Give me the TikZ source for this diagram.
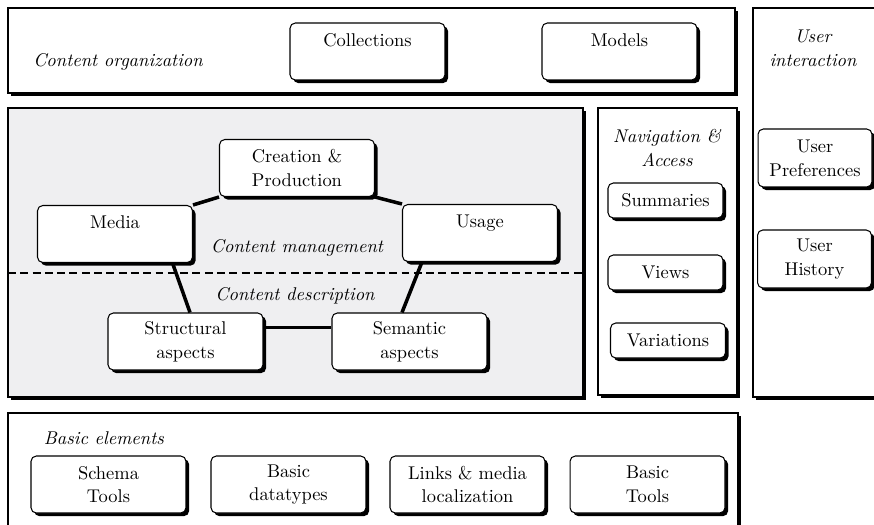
\documentclass[tikz,border=0pt]{standalone}
\usepackage{tikz}
\usetikzlibrary{calc}
\usetikzlibrary{shadows}
\definecolor{descgray}{RGB}{239,239,241}

\begin{document}
\begin{tikzpicture}[x=0.02cm,y=-0.02cm,
  boxshadow/.style={drop shadow={shadow xshift=1.8pt,shadow yshift=-1.8pt,opacity=1,fill=black}},
  panel/.style={draw,line width=0.6pt,fill=white,boxshadow},
  itembox/.style={draw,line width=0.6pt,fill=white,rounded corners=3pt,boxshadow,align=center,
    inner sep=0pt,font=\fontsize{10.5}{13.5}\selectfont},
  bigbox/.style={itembox,minimum width=3.1cm,minimum height=1.14cm},
  navbox/.style={itembox,minimum width=2.3cm,minimum height=0.7cm},
  userbox/.style={itembox,minimum width=2.28cm,minimum height=1.16cm},
  areatext/.style={align=center,inner sep=0pt,font=\fontsize{10.5}{13.5}\selectfont\itshape},
  link/.style={line width=2pt}]
\useasboundingbox (0,0) rectangle (874,524);
\clip (0,0) rectangle (874,524);

% panels
\draw [panel] (8,8) rectangle (735,93);
\draw [panel] (753,8) rectangle (900,397);
\draw [panel,fill=descgray] (8,108) rectangle (583,397);
\draw [panel] (598,108) rectangle (737,395);
\draw [panel] (8,413) rectangle (738,560);

\draw [dash pattern=on 4.5pt off 2.5pt,line width=0.6pt] (8,273)--(583,273);

% content organization
\node [areatext] (orgtext) at (118,62) {Content organization};
\node [bigbox] (collections) at (367.5,51.5) {Collections\\\phantom{X}};
\node [bigbox] (models) at (619.5,51.5) {Models\\\phantom{X}};

% content management / description
\node [areatext] (mgmttext) at (297,248) {Content management};
\node [areatext] (desctext) at (295,296) {Content description};
\node [bigbox] (creation) at (297,168) {Creation \&\\Production};
\node [bigbox] (media) at (115,234) {Media\\\phantom{X}};
\node [bigbox] (usage) at (480,233) {Usage\\\phantom{X}};
\node [bigbox] (structural) at (185.5,341.5) {Structural\\aspects};
\node [bigbox] (semantic) at (409.5,341.5) {Semantic\\aspects};

\draw [link] (media.north east)--(creation.south west);
\draw [link] (creation.south east)--(usage.north west);
\draw [link] ($(media.south east)+(-20.5,0)$)--($(structural.north)+(4.5,0)$);
\draw [link] ($(usage.south west)+(20,0)$)--($(semantic.north)+(-7.5,0)$);
\draw [line width=1.2pt] ($(structural.east)+(0,-14)$)--($(semantic.west)+(0,-14)$);

% navigation
\node [areatext] (navtext) at (667,148) {Navigation \&\\Access};
\node [navbox] (summaries) at (665.5,200.5) {Summaries};
\node [navbox] (views) at (665.5,272.5) {Views};
\node [navbox] (variations) at (668,340.5) {Variations};

% user interaction
\node [areatext] (usertext) at (813,48) {User\\interaction};
\node [userbox] (prefs) at (815,158) {User\\Preferences};
\node [userbox] (history) at (814.5,259) {User\\History};

% basic elements
\node [areatext] (basictext) at (104,438) {Basic elements};
\node [bigbox] (schema) at (108.5,484.5) {Schema\\Tools};
\node [bigbox] (datatypes) at (288.5,484.5) {Basic\\datatypes};
\node [bigbox] (links) at (467.5,484.5) {Links \& media\\localization};
\node [bigbox] (tools) at (647.5,484.5) {Basic\\Tools};
\end{tikzpicture}
\end{document}
